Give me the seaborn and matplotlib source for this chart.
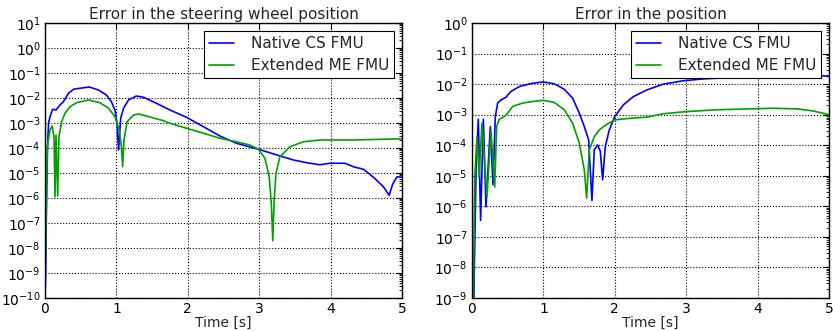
import numpy as np
import pandas as pd
import seaborn as sns
import matplotlib
matplotlib.use("Agg")
import matplotlib.pyplot as plt
from matplotlib.ticker import FixedLocator, LogFormatterMathtext, NullFormatter

sns.set_theme(style="white")
plt.rcParams['font.family'] = ['DejaVu Sans']
plt.rcParams['mathtext.fontset'] = 'dejavusans'

series_names = ["Native CS FMU", "Extended ME FMU"]
series_colors = ["#0000ff", "#00a000"]

# Steering wheel position error (time [s], log10 of error)
wheel_cs_t = [0.0, 0.01, 0.02, 0.035, 0.05, 0.07, 0.107, 0.154, 0.21, 0.257, 0.33, 0.40,
              0.49, 0.62, 0.75, 0.86, 0.93, 0.98, 1.01, 1.03, 1.06, 1.10, 1.17, 1.28,
              1.38, 1.56, 1.75, 1.98, 2.22, 2.45, 2.68, 2.99, 3.25, 3.48, 3.67, 3.85,
              3.99, 4.20, 4.32, 4.46, 4.60, 4.74, 4.82, 4.87, 4.93, 5.0]
wheel_cs_log = [-10.0, -9.0, -6.5, -4.0, -3.0, -2.75, -2.45, -2.48, -2.28, -2.15, -1.81, -1.65,
                -1.61, -1.56, -1.68, -1.88, -2.15, -2.48, -3.01, -4.08, -2.81, -2.41, -2.08, -1.92,
                -1.97, -2.21, -2.48, -2.77, -3.15, -3.52, -3.81, -4.05, -4.28, -4.48, -4.59, -4.67,
                -4.61, -4.61, -4.75, -4.85, -5.17, -5.55, -5.89, -5.44, -5.15, -5.17]

wheel_me_t = [0.0, 0.01, 0.02, 0.033, 0.07, 0.10, 0.126, 0.14, 0.154, 0.178, 0.196, 0.233,
              0.28, 0.35, 0.44, 0.61, 0.77, 0.89, 0.98, 1.04, 1.07, 1.088, 1.106, 1.15,
              1.24, 1.31, 1.42, 1.66, 1.75, 1.98, 2.22, 2.45, 2.68, 2.87, 2.99, 3.08,
              3.14, 3.17, 3.19, 3.21, 3.235, 3.29, 3.43, 3.62, 3.85, 4.32, 5.0]
wheel_me_log = [-8.5, -8.0, -6.0, -3.95, -3.28, -3.12, -3.55, -5.95, -3.48, -5.92, -3.55, -2.95,
                -2.61, -2.35, -2.19, -2.08, -2.19, -2.41, -2.75, -3.28, -3.95, -4.75, -3.68, -2.95,
                -2.68, -2.64, -2.72, -2.91, -3.01, -3.21, -3.41, -3.61, -3.75, -3.88, -4.05, -4.41,
                -5.15, -6.21, -7.71, -6.08, -5.01, -4.35, -3.95, -3.75, -3.68, -3.68, -3.63]

# Position error (time [s], log10 of error)
pos_cs_t = [0.0, 0.025, 0.033, 0.06, 0.089, 0.121, 0.159, 0.196, 0.257, 0.294, 0.327, 0.36,
            0.406, 0.476, 0.546, 0.663, 0.85, 1.0, 1.153, 1.293, 1.41, 1.503, 1.573, 1.634,
            1.68, 1.713, 1.76, 1.797, 1.83, 1.867, 1.923, 2.0, 2.12, 2.26, 2.45, 2.68,
            2.96, 3.24, 3.5, 4.0, 4.5, 4.92, 5.0]
pos_cs_log = [-10.0, -9.5, -8.0, -4.5, -3.15, -6.46, -3.15, -6.02, -3.39, -5.29, -3.06, -2.62,
              -2.52, -2.43, -2.24, -2.08, -1.97, -1.93, -1.99, -2.17, -2.46, -2.95, -3.39, -3.82,
              -5.81, -4.15, -3.99, -4.2, -5.13, -4.04, -3.5, -3.06, -2.68, -2.41, -2.19, -2.0,
              -1.89, -1.83, -1.80, -1.76, -1.73, -1.73, -1.75]

pos_me_t = [0.0, 0.019, 0.04, 0.07, 0.10, 0.14, 0.21, 0.266, 0.318, 0.346, 0.383, 0.453,
            0.5, 0.57, 0.71, 0.85, 1.0, 1.153, 1.293, 1.41, 1.503, 1.573, 1.606, 1.643,
            1.713, 1.783, 1.877, 2.0, 2.21, 2.45, 2.68, 3.0, 3.43, 3.89, 4.22, 4.55,
            4.78, 5.0]
pos_me_log = [-10.0, -9.0, -5.0, -3.74, -5.02, -3.28, -5.68, -3.55, -5.37, -3.39, -3.15, -3.06,
              -2.95, -2.73, -2.62, -2.57, -2.53, -2.6, -2.84, -3.28, -3.93, -4.8, -5.73, -4.15,
              -3.72, -3.5, -3.33, -3.17, -3.12, -3.08, -2.97, -2.9, -2.84, -2.81, -2.79, -2.81,
              -2.88, -3.0]

x_ticks = [0, 1, 2, 3, 4, 5]

panels = [
    {"title": "Error in the steering wheel position",
     "curves": [(wheel_cs_t, wheel_cs_log), (wheel_me_t, wheel_me_log)],
     "decades": (-10, 1)},
    {"title": "Error in the position",
     "curves": [(pos_cs_t, pos_cs_log), (pos_me_t, pos_me_log)],
     "decades": (-9, 0)},
]

fig = plt.figure(figsize=(8.33, 3.31), dpi=100)
axes = [fig.add_axes([0.054, 0.0997, 0.4286, 0.8308]),
        fig.add_axes([0.5666, 0.0997, 0.4286, 0.8308])]

for ax, panel in zip(axes, panels):
    for name, color, (t, lg) in zip(series_names, series_colors, panel["curves"]):
        df = pd.DataFrame({"t": t, "err": np.power(10.0, lg)})
        sns.lineplot(data=df, x="t", y="err", ax=ax, color=color, label=name,
                     estimator=None, sort=False, linewidth=1.2)
    lo, hi = panel["decades"]
    ax.set_yscale("log")
    ax.set_xlim(0, 5)
    ax.set_ylim(10.0 ** lo, 10.0 ** hi)
    ax.set_title(panel["title"], fontsize=11, pad=3)
    ax.set_xlabel("Time [s]", fontsize=10, labelpad=0)
    ax.set_ylabel(None)
    exps = np.arange(lo, hi + 1)
    ax.yaxis.set_major_locator(FixedLocator(10.0 ** exps))
    ax.yaxis.set_major_formatter(LogFormatterMathtext())
    minors = [m * 10.0 ** e for e in exps[:-1] for m in range(2, 10)]
    ax.yaxis.set_minor_locator(FixedLocator(minors))
    ax.yaxis.set_minor_formatter(NullFormatter())
    ax.set_xticks(x_ticks)
    ax.grid(True, which="major", color="black", linestyle=":", linewidth=0.8)
    ax.tick_params(which="both", direction="in", top=True, right=True, labelsize=10,
                   colors="black", pad=3)
    ax.tick_params(which="major", length=4, width=0.8)
    ax.tick_params(which="minor", length=2, width=0.6)
    for sp in ax.spines.values():
        sp.set_color("black")
        sp.set_linewidth(1.0)
    leg = ax.legend(loc="upper right", fontsize=11, fancybox=False, framealpha=1,
                    edgecolor="black", borderaxespad=0.5, handlelength=1.6,
                    handletextpad=1.1, borderpad=0.35, labelspacing=0.45)
    leg.get_frame().set_linewidth(0.8)

fig.savefig("out.png", dpi=100)
